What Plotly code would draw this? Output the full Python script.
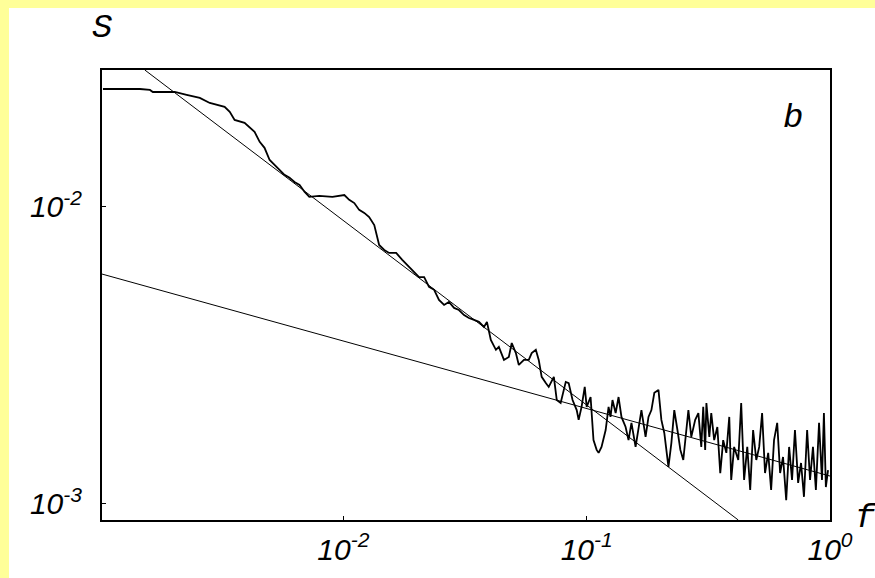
import plotly.graph_objects as go

log_f = [-2.988, -2.918, -2.836, -2.795, -2.783, -2.734, -2.693, -2.644, -2.590, -2.549,
         -2.488, -2.467, -2.447, -2.406, -2.385, -2.365, -2.344, -2.324, -2.303, -2.283,
         -2.262, -2.242, -2.221, -2.201, -2.180, -2.160, -2.140, -2.099, -2.045, -1.996,
         -1.976, -1.955, -1.935, -1.914, -1.894, -1.873, -1.853, -1.832, -1.812, -1.783,
         -1.758, -1.730, -1.709, -1.689, -1.668, -1.648, -1.627, -1.607, -1.586, -1.566,
         -1.545, -1.525, -1.504, -1.484, -1.463, -1.443, -1.422, -1.410, -1.394, -1.373,
         -1.361, -1.340, -1.320, -1.308, -1.291, -1.279, -1.258, -1.238, -1.226, -1.209,
         -1.197, -1.185, -1.168, -1.156, -1.135, -1.123, -1.107, -1.086, -1.074, -1.058,
         -1.041, -1.033, -1.021, -1.008, -1.000, -0.984, -0.972, -0.959, -0.951, -0.939,
         -0.922, -0.910, -0.902, -0.894, -0.881, -0.869, -0.857, -0.840, -0.828, -0.816,
         -0.799, -0.787, -0.775, -0.758, -0.746, -0.734, -0.722, -0.705, -0.693, -0.681,
         -0.664, -0.652, -0.640, -0.627, -0.615, -0.603, -0.590, -0.582, -0.570, -0.554,
         -0.541, -0.529, -0.521, -0.513, -0.508, -0.496, -0.488, -0.476, -0.463, -0.451,
         -0.439, -0.426, -0.414, -0.406, -0.394, -0.377, -0.365, -0.353, -0.340, -0.328,
         -0.316, -0.303, -0.291, -0.279, -0.267, -0.254, -0.242, -0.230, -0.217, -0.205,
         -0.193, -0.180, -0.168, -0.156, -0.144, -0.131, -0.119, -0.107, -0.094, -0.082,
         -0.070, -0.058, -0.045, -0.033, -0.025, -0.017, -0.008]
log_S = [-1.603, -1.603, -1.603, -1.606, -1.613, -1.613, -1.613, -1.623, -1.633, -1.650,
         -1.663, -1.680, -1.707, -1.717, -1.734, -1.747, -1.781, -1.801, -1.842, -1.859,
         -1.875, -1.892, -1.902, -1.916, -1.926, -1.949, -1.966, -1.963, -1.966, -1.960,
         -1.976, -1.987, -2.010, -2.020, -2.034, -2.061, -2.128, -2.145, -2.155, -2.155,
         -2.178, -2.202, -2.219, -2.236, -2.236, -2.269, -2.279, -2.313, -2.330, -2.320,
         -2.340, -2.347, -2.364, -2.374, -2.380, -2.387, -2.404, -2.387, -2.448, -2.481,
         -2.471, -2.515, -2.505, -2.458, -2.492, -2.532, -2.515, -2.515, -2.492, -2.481,
         -2.515, -2.572, -2.593, -2.606, -2.572, -2.650, -2.660, -2.589, -2.593, -2.650,
         -2.684, -2.717, -2.673, -2.606, -2.673, -2.640, -2.785, -2.818, -2.828, -2.808,
         -2.751, -2.673, -2.707, -2.650, -2.694, -2.640, -2.707, -2.741, -2.785, -2.727,
         -2.808, -2.751, -2.684, -2.774, -2.707, -2.684, -2.626, -2.616, -2.717, -2.761,
         -2.875, -2.795, -2.684, -2.751, -2.818, -2.852, -2.751, -2.684, -2.774, -2.717,
         -2.694, -2.808, -2.673, -2.818, -2.660, -2.774, -2.694, -2.785, -2.741, -2.896,
         -2.785, -2.828, -2.707, -2.919, -2.808, -2.852, -2.660, -2.919, -2.808, -2.953,
         -2.751, -2.852, -2.808, -2.694, -2.896, -2.828, -2.953, -2.785, -2.727, -2.896,
         -2.842, -2.987, -2.808, -2.919, -2.751, -2.929, -2.862, -2.976, -2.751, -2.919,
         -2.808, -2.953, -2.727, -2.919, -2.694, -2.943, -2.886]

# Two power-law fits (endpoints, log10)
fit1_log_f = [-2.816, -0.377]
fit1_log_S = [-1.539, -3.054]
fit2_log_f = [-2.992, 0.0]
fit2_log_S = [-2.226, -2.906]

x_tick_vals = [0.01, 0.1, 1.0]
x_tick_text = ["<i>10<sup>-2</sup></i>", "<i>10<sup>-1</sup></i>", "<i>10<sup>0</sup></i>"]
y_tick_vals = [0.01, 0.001]
y_tick_text = ["<i>10<sup>-2</sup></i>", "<i>10<sup>-3</sup></i>"]


def p10(a):
    return [10 ** v for v in a]


fig = go.Figure()
fig.add_trace(go.Scatter(x=p10(fit1_log_f), y=p10(fit1_log_S), mode="lines",
                         line=dict(color="black", width=1), hoverinfo="skip"))
fig.add_trace(go.Scatter(x=p10(fit2_log_f), y=p10(fit2_log_S), mode="lines",
                         line=dict(color="black", width=1), hoverinfo="skip"))
fig.add_trace(go.Scatter(x=p10(log_f), y=p10(log_S), mode="lines",
                         line=dict(color="black", width=1.8)))

L, R, T, B = 102, 45, 70, 58
W, H = 875, 578
pw, ph = W - L - R, H - T - B

tickfont = dict(family="Liberation Sans", size=30, color="black")

fig.update_layout(
    width=W, height=H,
    margin=dict(l=L, r=R, t=T, b=B),
    paper_bgcolor="#FFFF99",
    plot_bgcolor="white",
    showlegend=False,
    xaxis=dict(type="log", range=[-2.992, 0.0], showgrid=False, zeroline=False,
               showline=True, mirror=True, linecolor="black", linewidth=2,
               ticks="inside", ticklen=4, tickwidth=1, tickcolor="black",
               tickvals=x_tick_vals, ticktext=x_tick_text, tickfont=tickfont,
               ticklabelstandoff=2),
    yaxis=dict(type="log", range=[-3.054, -1.539], showgrid=False, zeroline=False,
               showline=True, mirror=True, linecolor="black", linewidth=2,
               ticks="inside", ticklen=4, tickwidth=1, tickcolor="black",
               tickvals=y_tick_vals, ticktext=y_tick_text, tickfont=tickfont,
               ticklabelstandoff=12),
)

# white page area (yellow strips remain on top and left)
fig.add_shape(type="rect", xref="paper", yref="paper", layer="below",
              x0=(9 - L) / pw, x1=(W + 5 - L) / pw,
              y0=-(B + 5) / ph, y1=(H - B - 8) / ph,
              fillcolor="white", line=dict(width=0))

labfont = dict(family="Liberation Mono", size=34, color="black")
fig.add_annotation(text="<i>S</i>", xref="paper", yref="paper", x=0.0, y=(H - B - 28) / ph,
                   showarrow=False, font=labfont, xanchor="center", yanchor="middle")
fig.add_annotation(text="<i>b</i>", xref="paper", yref="paper", x=(793 - L) / pw, y=(H - B - 118) / ph,
                   showarrow=False, font=labfont, xanchor="center", yanchor="middle")
fig.add_annotation(text="<i>f</i>", xref="paper", yref="paper", x=(866 - L) / pw, y=(H - B - 518) / ph,
                   showarrow=False, font=labfont, xanchor="center", yanchor="middle")

fig.write_html("out.html")
